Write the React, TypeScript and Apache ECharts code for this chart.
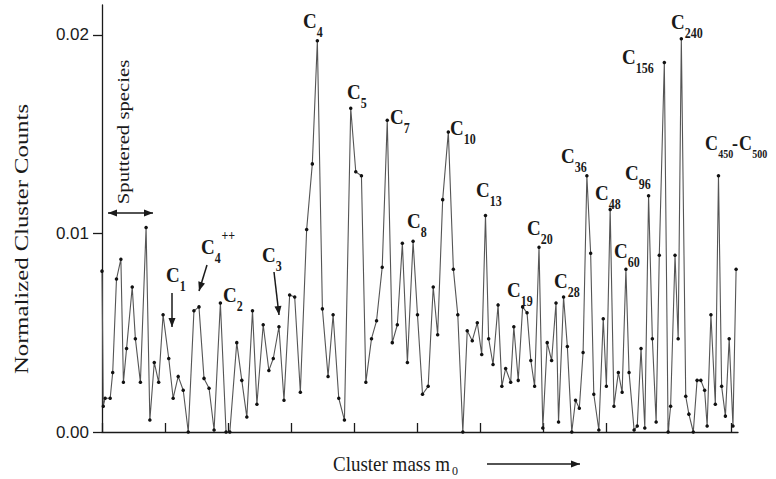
import React, { useEffect, useRef } from "react";
import * as echarts from "echarts";

// cluster mass position (in axis tick units) and normalized counts
const massPos = [
  0, 0.02, 0.05, 0.13, 0.17, 0.23, 0.30, 0.34, 0.39, 0.48,
  0.53, 0.61, 0.70, 0.76, 0.83, 0.90, 0.97, 1.06, 1.13, 1.21,
  1.29, 1.37, 1.46, 1.54, 1.62, 1.70, 1.78, 1.88, 1.97, 2.03,
  2.14, 2.22, 2.30, 2.39, 2.46, 2.56, 2.65, 2.72, 2.81, 2.89,
  2.98, 3.06, 3.15, 3.25, 3.34, 3.42, 3.50, 3.59, 3.67, 3.76,
  3.85, 3.95, 4.03, 4.12, 4.19, 4.28, 4.36, 4.45, 4.53, 4.61,
  4.69, 4.77, 4.85, 4.94, 5.01, 5.09, 5.18, 5.26, 5.33, 5.41,
  5.50, 5.58, 5.65, 5.73, 5.80, 5.88, 5.96, 6.03, 6.09, 6.14,
  6.21, 6.29, 6.35, 6.41, 6.49, 6.54, 6.61, 6.68, 6.75, 6.81,
  6.87, 6.94, 7.00, 7.07, 7.14, 7.21, 7.25, 7.33, 7.39, 7.46,
  7.52, 7.58, 7.64, 7.70, 7.76, 7.81, 7.89, 7.96, 8.01, 8.07,
  8.13, 8.20, 8.26, 8.32, 8.37, 8.45, 8.50, 8.56, 8.62, 8.68,
  8.74, 8.80, 8.85, 8.93, 8.99, 9.03, 9.10, 9.15, 9.20, 9.27,
  9.32, 9.39, 9.45, 9.51, 9.57, 9.61, 9.67, 9.74, 9.79, 9.84,
  9.90, 9.96, 10.02, 10.07,
];
const counts = [
  0.0081, 0.0013, 0.0017, 0.0017, 0.0030, 0.0077, 0.0087, 0.0025, 0.0042, 0.0073,
  0.0047, 0.0025, 0.0103, 0.0006, 0.0035, 0.0025, 0.0059, 0.0037, 0.0017, 0.0028,
  0.0021, 0.0000, 0.0061, 0.0063, 0.0027, 0.0022, 0.0001, 0.0065, 0.0000, 0.0000,
  0.0045, 0.0026, 0.00075, 0.0061, 0.0014, 0.0054, 0.0031, 0.0037, 0.0053, 0.0016,
  0.0069, 0.0068, 0.0020, 0.0102, 0.0135, 0.0197, 0.0062, 0.0028, 0.0059, 0.0017,
  0.0006, 0.0163, 0.0131, 0.0129, 0.0025, 0.0047, 0.0056, 0.0083, 0.0157, 0.0045,
  0.0054, 0.0095, 0.0035, 0.0096, 0.0059, 0.0019, 0.0023, 0.0073, 0.0049, 0.0117,
  0.0151, 0.0082, 0.0059, 0.0000, 0.0051, 0.0046, 0.0055, 0.0039, 0.0109, 0.0047,
  0.0034, 0.0064, 0.0023, 0.0032, 0.0025, 0.0053, 0.0026, 0.0063, 0.0060, 0.0036,
  0.0023, 0.0093, 0.0002, 0.0045, 0.0036, 0.0065, 0.0005, 0.0068, 0.0043, 0.0000,
  0.0016, 0.0012, 0.0040, 0.0129, 0.0090, 0.0019, 0.0001, 0.0057, 0.0023, 0.0112,
  0.0013, 0.0030, 0.0020, 0.0082, 0.0030, 0.0001, 0.0003, 0.0042, 0.0002, 0.0119,
  0.0047, 0.0005, 0.0089, 0.0186, 0.0000, 0.0013, 0.0089, 0.0047, 0.0198, 0.0018,
  0.0009, 0.0000, 0.0026, 0.0026, 0.0021, 0.0003, 0.0059, 0.0014, 0.0129, 0.0023,
  0.0008, 0.0047, 0.0003, 0.0082,
];
const yTickValues = [0, 0.01, 0.02];
const xTickValues = [0, 1, 2, 3, 4, 5, 6, 7, 8, 9, 10];

// peak annotation texts
const peakSubs = ["1", "4", "2", "3", "4", "5", "7", "10", "8", "13", "20", "19", "28", "36", "48", "60", "96", "156", "240"];
const peakSups = ["", "++", "", "", "", "", "", "", "", "", "", "", "", "", "", "", "", "", ""];

// layout of annotations (left x of "C", cap centre y)
const peakLayout: [number, number][] = [
  [166, 275], [201, 247], [223, 295], [262, 255], [303, 21], [347, 92], [390, 117],
  [450, 128], [407, 221], [476, 190], [527, 228], [507, 290], [554, 281], [561, 156],
  [595, 193], [614, 251], [625, 173], [622, 57], [671, 22],
];

const SERIF = "'Liberation Serif', 'DejaVu Serif', serif";
const SANS = "'Liberation Sans', Arial, sans-serif";
const INK = "#1a1a1a";

function arrowHead(x1: number, y1: number, x2: number, y2: number, len = 9, half = 3.5) {
  const dx = x2 - x1, dy = y2 - y1;
  const d = Math.hypot(dx, dy);
  const ux = dx / d, uy = dy / d;
  const bx = x2 - ux * len, by = y2 - uy * len;
  return {
    type: "polygon",
    shape: { points: [[x2, y2], [bx - uy * half, by + ux * half], [bx + uy * half, by - ux * half]] },
    style: { fill: INK },
    silent: true,
  };
}
function arrow(x1: number, y1: number, x2: number, y2: number, both = false) {
  const els: any[] = [
    { type: "line", shape: { x1, y1, x2, y2 }, style: { stroke: INK, lineWidth: 1.5 }, silent: true },
    arrowHead(x1, y1, x2, y2),
  ];
  if (both) els.push(arrowHead(x2, y2, x1, y1));
  return els;
}
function txt(x: number, y: number, text: string, size: number, bold = true, sy = 1.15) {
  return {
    type: "text", x, y, scaleY: sy,
    style: { text, fontFamily: SERIF, fontWeight: bold ? "bold" : "normal", fontSize: size, fill: INK, verticalAlign: "middle", align: "left" },
  };
}
function cLabel(x: number, cy: number, sub: string, sup = "", size = 19, subSize = 12) {
  const cw = size * 0.73;
  const els: any[] = [txt(x, cy, "C", size), txt(x + cw, cy + size * 0.58, sub, subSize)];
  if (sup) els.push(txt(x + cw + subSize * 0.55, cy - size * 0.6, sup, subSize));
  return els;
}

export default function App() {
  const ref = useRef<HTMLDivElement>(null);
  useEffect(() => {
    if (!ref.current) return;
    const chart = echarts.init(ref.current, null, { renderer: "svg" });
    const graphics: any[] = [];
    peakSubs.forEach((sub, i) => {
      const [x, y] = peakLayout[i];
      graphics.push(...cLabel(x, y, sub, peakSups[i]));
    });
    // C450-C500
    graphics.push(...cLabel(705, 143, "450", "", 18, 10));
    graphics.push(txt(732, 143, "-", 18));
    graphics.push(...cLabel(739, 143, "500", "", 18, 10));
    // arrows
    graphics.push(...arrow(108, 213, 153, 213, true));
    graphics.push(...arrow(172, 293, 172, 327));
    graphics.push(...arrow(207, 265, 199, 291));
    graphics.push(...arrow(274, 272, 279, 315));
    graphics.push(...arrow(487, 464, 580, 464));
    // sputtered species
    graphics.push({
      type: "text", x: 123, y: 132, rotation: Math.PI / 2, scaleX: 1.22,
      style: { text: "Sputtered species", fontFamily: SERIF, fontSize: 17, fill: INK, align: "center", verticalAlign: "middle" },
    });
    // axis titles
    graphics.push({
      type: "text", x: 22, y: 239, rotation: Math.PI / 2, scaleX: 1.3,
      style: { text: "Normalized Cluster Counts", fontFamily: SERIF, fontSize: 19, fill: INK, align: "center", verticalAlign: "middle" },
    });
    graphics.push({
      type: "text", x: 333, y: 464, scaleY: 1.1,
      style: { text: "Cluster mass m", fontFamily: SERIF, fontSize: 19, fill: INK, align: "left", verticalAlign: "middle" },
    });
    graphics.push({
      type: "text", x: 452, y: 471,
      style: { text: "0", fontFamily: SERIF, fontSize: 12, fill: INK, align: "left", verticalAlign: "middle" },
    });

    chart.setOption({
      animation: false,
      backgroundColor: "#ffffff",
      grid: { left: 102, right: 38, top: 5, bottom: 47, containLabel: false },
      xAxis: {
        type: "value", min: 0, max: 10.1, interval: 1,
        axisLine: { show: true, onZero: false, lineStyle: { color: INK, width: 1.3 } },
        axisTick: { show: true, inside: true, length: 9, customValues: xTickValues, lineStyle: { color: INK, width: 1.3 } },
        axisLabel: { show: false },
        splitLine: { show: false },
      },
      yAxis: {
        type: "value", min: 0, max: 0.0215, interval: 0.01,
        axisLine: { show: true, lineStyle: { color: INK, width: 1.3 } },
        axisTick: { show: true, length: 9, customValues: yTickValues, lineStyle: { color: INK, width: 1.3 } },
        axisLabel: { show: true, customValues: yTickValues, formatter: (v: number) => v.toFixed(2), fontFamily: SANS, fontSize: 17, color: INK, margin: 13 },
        splitLine: { show: false },
      },
      series: [
        {
          type: "line",
          data: massPos.map((x, i) => [x, counts[i]]),
          symbol: "circle",
          symbolSize: 3.5,
          showSymbol: true,
          lineStyle: { color: "#555", width: 1.1 },
          itemStyle: { color: "#111" },
          clip: false,
        },
      ],
      graphic: graphics,
    });
    return () => chart.dispose();
  }, []);
  return <div ref={ref} style={{ position: "fixed", left: 0, top: 0, width: 776, height: 479 }} />;
}
